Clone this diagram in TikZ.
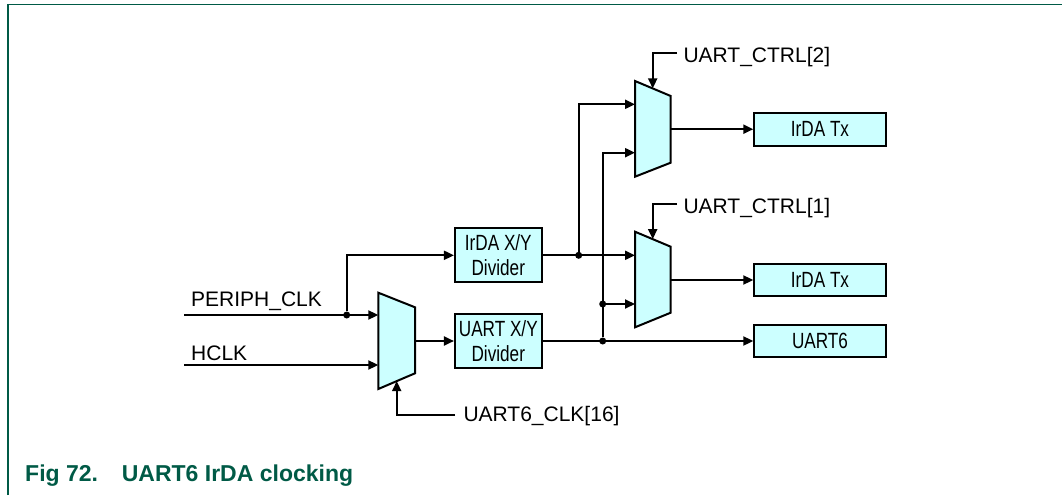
\documentclass[tikz,border=0pt]{standalone}
\usepackage{fontspec}
\setmainfont{Liberation Sans}
\newfontfamily\narrowfont[FakeStretch=0.78]{Liberation Sans}
\usetikzlibrary{arrows.meta}
\definecolor{cyanfill}{RGB}{204,255,255}
\definecolor{framegreen}{RGB}{0,90,70}
\begin{document}
\begin{tikzpicture}[x=1pt,y=-1pt,
  blk/.style={draw=black, line width=2pt, fill=cyanfill, inner sep=0pt, align=center,
    font=\narrowfont\fontsize{22}{25}\selectfont},
  wire/.style={line width=2pt},
  arr/.style={wire, -{Triangle[length=10pt,width=9pt]}},
  jdot/.style={circle, fill=black, inner sep=0pt, minimum size=7pt},
  lbl/.style={inner sep=0pt, anchor=base west, font=\fontsize{21}{25}\selectfont},
  muxs/.style={draw=black, line width=2pt, fill=cyanfill, line join=miter}
]
\useasboundingbox (0,0) rectangle (1062,495);
% frame
\draw[framegreen, line width=1.5pt] (8,495) -- (8,4.5) -- (1062,4.5);

% multiplexers
\draw[muxs] (378.3,292.7) -- (415,307.3) -- (415,373.3) -- (378.3,389) -- cycle;
\draw[muxs] (635,81) -- (670.7,96) -- (670.7,162.7) -- (635,176.7) -- cycle;
\draw[muxs] (635,231.7) -- (670.7,246.7) -- (670.7,312.7) -- (635,327.3) -- cycle;

% mux ports
\coordinate (m0i1) at (378.3,315);
\coordinate (m0i2) at (378.3,365);
\coordinate (m0o) at (415,341);
\coordinate (m0s) at (396.7,381.1);
\coordinate (m2i1) at (635,104.3);
\coordinate (m2i2) at (635,152.7);
\coordinate (m2o) at (670.7,129.2);
\coordinate (m2s) at (652.7,88.4);
\coordinate (m1i1) at (635,255.3);
\coordinate (m1i2) at (635,304);
\coordinate (m1o) at (670.7,280);
\coordinate (m1s) at (652.7,239.1);

% blocks
\node[blk, minimum width=86.7pt, minimum height=54pt] (irdadiv) at (498.3,255.3) {IrDA X/Y\\Divider};
\node[blk, minimum width=86.7pt, minimum height=54pt] (uartdiv) at (498.3,341) {UART X/Y\\Divider};
\node[blk, minimum width=131.4pt, minimum height=33pt] (tx1) at (820,129.2) {IrDA Tx};
\node[blk, minimum width=131.4pt, minimum height=32pt] (tx2) at (820,280) {IrDA Tx};
\node[blk, minimum width=131.4pt, minimum height=32.4pt] (uart6) at (820,341) {UART6};

% labels
\node[lbl] (lp) at (191,306.7) {PERIPH\_CLK};
\node[lbl] (lh) at (191,360) {HCLK};
\node[lbl] (ls0) at (463.3,421.7) {UART6\_CLK[16]};
\node[lbl] (ls2) at (683.3,62.3) {UART\_CTRL[2]};
\node[lbl] (ls1) at (683.3,213.3) {UART\_CTRL[1]};

% free ends
\coordinate (pin) at (184,315);
\coordinate (hin) at (184,365);
\coordinate (s0) at (455,415);
\coordinate (s2) at (677,53.3);
\coordinate (s1) at (677,204);

% junction dots
\node[jdot] (dP) at (346.7,315) {};
\node[jdot] (d1) at (578.7,255.3) {};
\node[jdot] (d2) at (602.7,304) {};
\node[jdot] (d3) at (602.7,341) {};

% wires
\draw[arr] (pin) -- (m0i1);
\draw[arr] (hin) -- (m0i2);
\draw[arr] (dP) |- (irdadiv.west);
\draw[arr] (m0o) -- (uartdiv.west);
\draw[arr] (s0) -| (m0s);
\draw[arr] (irdadiv.east) -- (m1i1);
\draw[arr] (d1) |- (m2i1);
\draw[arr] (uartdiv.east) -- (uart6.west);
\draw[arr] (d3) |- (m2i2);
\draw[arr] (d2) -- (m1i2);
\draw[arr] (m2o) -- (tx1.west);
\draw[arr] (m1o) -- (tx2.west);
\draw[arr] (s2) -| (m2s);
\draw[arr] (s1) -| (m1s);

% caption
\node[anchor=base west, inner sep=0pt, text=framegreen, font=\bfseries\fontsize{23}{28}\selectfont] (cap) at (25,481.7) {Fig 72.\hspace{23.8pt}UART6 IrDA clocking};
\end{tikzpicture}
\end{document}
